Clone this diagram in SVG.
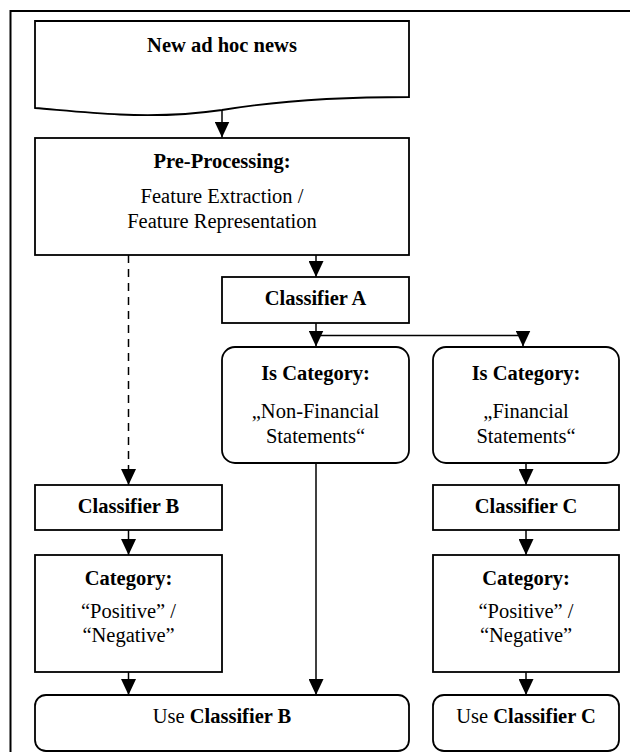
<svg xmlns="http://www.w3.org/2000/svg" width="630" height="752" viewBox="0 0 630 752">
<defs>
<marker id="arr" markerUnits="userSpaceOnUse" markerWidth="16" markerHeight="15" viewBox="0 0 16 15" refX="16" refY="7.5" orient="auto">
<path d="M0,0 L16,7.5 L0,15 Z" fill="#000"/>
</marker>
<style>
.box{fill:#fff;stroke:#000;stroke-width:1.8}
.ln{fill:none;stroke:#000;stroke-width:1.5}
.dash{stroke-dasharray:8,6}
text{font-family:"Liberation Serif","Times New Roman","DejaVu Serif",serif;font-size:20.5px;fill:#000;text-anchor:middle}
.b{font-weight:bold}
</style>
</defs>
<rect x="10.5" y="11" width="640" height="760" fill="none" stroke="#000" stroke-width="2"/>

<g id="connectors">
<path class="ln" d="M222,110 V137.5" marker-end="url(#arr)"/>
<path class="ln" d="M316,255 V277" marker-end="url(#arr)"/>
<path class="ln" d="M316,323 V346.5" marker-end="url(#arr)"/>
<path class="ln" d="M316,335.5 H523 V346.5" marker-end="url(#arr)"/>
<path class="ln dash" d="M128.5,255 V485" marker-end="url(#arr)"/>
<path class="ln" d="M128.5,530 V555" marker-end="url(#arr)"/>
<path class="ln" d="M128.5,672 V695" marker-end="url(#arr)"/>
<path class="ln" d="M316,463 V695" marker-end="url(#arr)"/>
<path class="ln" d="M526,463 V485" marker-end="url(#arr)"/>
<path class="ln" d="M526,530 V555" marker-end="url(#arr)"/>
<path class="ln" d="M526,672 V695" marker-end="url(#arr)"/>
</g>

<g id="news">
<path class="box" d="M35,21 H409 V97 C330,97 270,102 222,110 C180,116 140,115.5 120,114.5 C90,113 60,110 35,108 Z"/>
<text class="b" x="222" y="52">New ad hoc news</text>
</g>

<g id="preprocessing">
<rect class="box" x="35" y="138" width="374" height="117"/>
<text class="b" x="222" y="168">Pre-Processing:</text>
<text x="222" y="203">Feature Extraction /</text>
<text x="222" y="228">Feature Representation</text>
</g>

<g id="classifierA">
<rect class="box" x="222" y="277" width="187" height="46"/>
<text class="b" x="315.5" y="305">Classifier A</text>
</g>

<g id="nonfinancial">
<rect class="box" x="222" y="347" width="187" height="116" rx="13" ry="13"/>
<text class="b" x="315.5" y="380">Is Category:</text>
<text x="315.5" y="418">„Non-Financial</text>
<text x="315.5" y="443">Statements“</text>
</g>

<g id="financial">
<rect class="box" x="433" y="347" width="186" height="116" rx="13" ry="13"/>
<text class="b" x="526" y="380">Is Category:</text>
<text x="526" y="418">„Financial</text>
<text x="526" y="443">Statements“</text>
</g>

<g id="classifierB">
<rect class="box" x="35" y="485" width="187" height="45"/>
<text class="b" x="128.5" y="513">Classifier B</text>
</g>

<g id="classifierC">
<rect class="box" x="433" y="485" width="186" height="45"/>
<text class="b" x="526" y="513">Classifier C</text>
</g>

<g id="categoryB">
<rect class="box" x="35" y="555" width="187" height="117"/>
<text class="b" x="128.5" y="585">Category:</text>
<text x="128.5" y="618">“Positive” /</text>
<text x="128.5" y="642">“Negative”</text>
</g>

<g id="categoryC">
<rect class="box" x="433" y="555" width="186" height="117"/>
<text class="b" x="526" y="585">Category:</text>
<text x="526" y="618">“Positive” /</text>
<text x="526" y="642">“Negative”</text>
</g>

<g id="useB">
<rect class="box" x="35" y="695" width="374" height="56" rx="11" ry="11"/>
<text x="222" y="723">Use <tspan class="b">Classifier B</tspan></text>
</g>

<g id="useC">
<rect class="box" x="433" y="695" width="186" height="56" rx="11" ry="11"/>
<text x="526" y="723">Use <tspan class="b">Classifier C</tspan></text>
</g>
</svg>
